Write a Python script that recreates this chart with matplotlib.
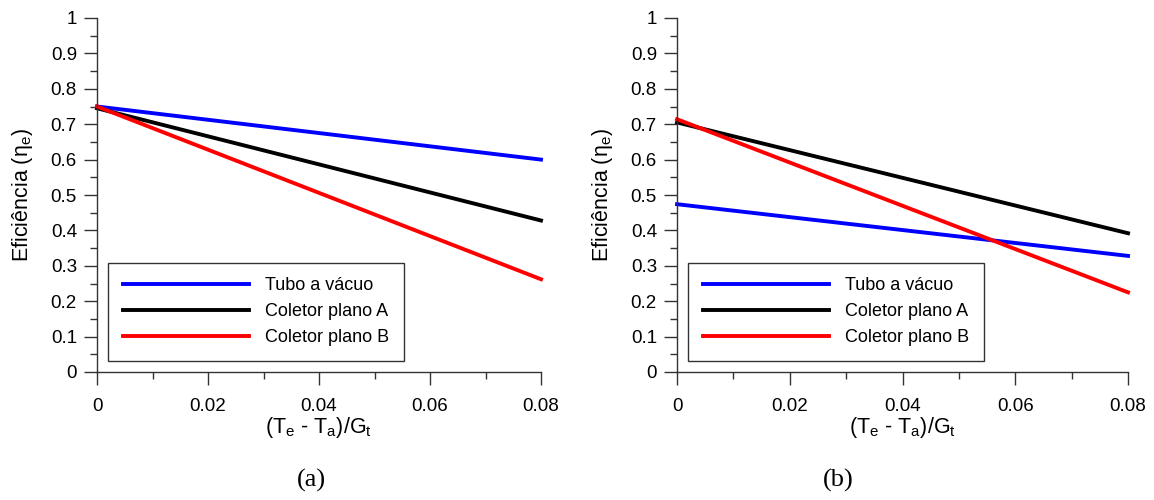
import matplotlib
matplotlib.use("Agg")
import matplotlib.pyplot as plt
from matplotlib.ticker import MultipleLocator

plt.rcParams['font.family'] = ['Liberation Sans', 'DejaVu Sans']
plt.rcParams['mathtext.fontset'] = 'custom'
plt.rcParams['mathtext.rm'] = 'Liberation Sans'

# end points of each efficiency line
x_vals = [0.0, 0.08]
series_names = ['Tubo a vácuo', 'Coletor plano A', 'Coletor plano B']
colors = ['#0000ff', '#000000', '#ff0000']

eta_a = {
    'Tubo a vácuo': [0.750, 0.600],
    'Coletor plano A': [0.745, 0.428],
    'Coletor plano B': [0.750, 0.262],
}
eta_b = {
    'Tubo a vácuo': [0.474, 0.328],
    'Coletor plano A': [0.705, 0.392],
    'Coletor plano B': [0.714, 0.225],
}

fig = plt.figure(figsize=(11.54, 5.0), dpi=100)
ax1 = fig.add_axes([0.0841, 0.256, 0.3847, 0.708])
ax2 = fig.add_axes([0.5867, 0.256, 0.3908, 0.708])

# caption x position (axes fraction) as placed in the original
for ax, data, cap, cap_x in [(ax1, eta_a, '(a)', 0.484), (ax2, eta_b, '(b)', 0.357)]:
    for name, c in zip(series_names, colors):
        ax.plot(x_vals, data[name], color=c, lw=2.8, label=name, clip_on=False)
    ax.set_xlim(0, 0.08)
    ax.set_ylim(0, 1)
    ax.xaxis.set_major_locator(MultipleLocator(0.02))
    ax.xaxis.set_minor_locator(MultipleLocator(0.01))
    ax.yaxis.set_major_locator(MultipleLocator(0.1))
    ax.yaxis.set_minor_locator(MultipleLocator(0.05))
    ax.xaxis.set_major_formatter(plt.FuncFormatter(lambda v, p: '0' if v == 0 else f'{v:g}'))
    ax.yaxis.set_major_formatter(plt.FuncFormatter(lambda v, p: f'{v:g}'))
    for s in ['top', 'right']:
        ax.spines[s].set_visible(False)
    for s in ['left', 'bottom']:
        ax.spines[s].set_color('#333333')
        ax.spines[s].set_linewidth(1.0)
    ax.tick_params(which='major', direction='out', length=9.5, width=1, color='#333333', labelsize=13.5)
    ax.tick_params(which='minor', direction='out', length=5, width=1, color='#333333')
    ax.tick_params(axis='x', which='major', pad=9)
    ax.tick_params(axis='y', which='major', pad=5)
    ax.set_xlabel(r'(T$_\mathregular{e}$ - T$_\mathregular{a}$)/G$_\mathregular{t}$', fontsize=15.5, labelpad=0)
    ax.set_ylabel(r'Eficiência ($\mathregular{\eta_e}$)', fontsize=15.5, labelpad=11)
    leg = ax.legend(loc='lower left', bbox_to_anchor=(0.005, 0.006), fontsize=13,
                    handlelength=7.0, fancybox=False, framealpha=1,
                    edgecolor='#333333', borderpad=0.8, handletextpad=0.9)
    leg.get_frame().set_linewidth(1.0)
    ax.text(cap_x, -0.305, cap, transform=ax.transAxes, ha='center', va='center',
            fontsize=19, family='Liberation Serif')

fig.savefig('out.png', dpi=100)
